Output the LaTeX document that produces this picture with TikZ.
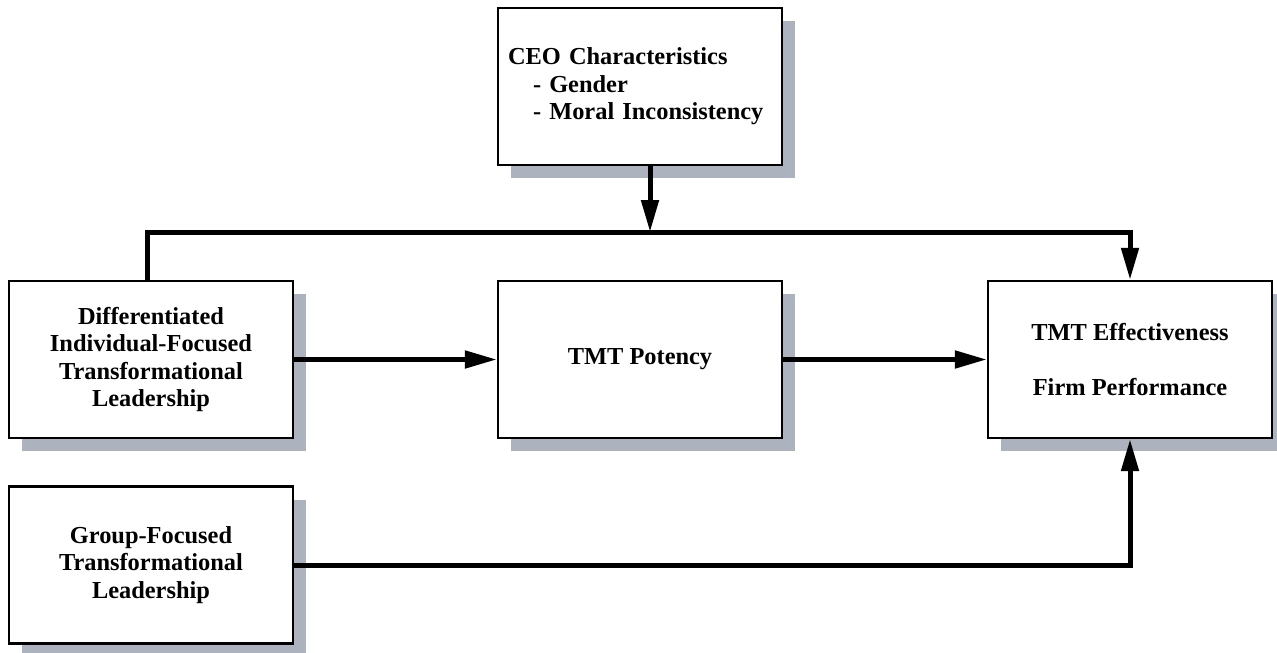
\documentclass[tikz,border=0pt]{standalone}
\usepackage{fontspec}
\setmainfont{Liberation Serif}
\usetikzlibrary{arrows.meta,shadows}
\definecolor{shadowgray}{RGB}{172,179,191}
\tikzset{
  box/.style={draw, line width=1.2pt, fill=white, minimum width=142pt, minimum height=78.5pt,
    align=center, font=\bfseries\fontsize{12.2}{13.8}\selectfont,
    drop shadow={shadow xshift=6.5pt, shadow yshift=-6.5pt, fill=shadowgray, opacity=1}},
  link/.style={line width=2.5pt, -{Triangle[length=16pt,width=8.5pt]}}
}
\begin{document}
\begin{tikzpicture}[x=0.5pt,y=-0.5pt]
\useasboundingbox (0,0) rectangle (1277,652);
% boxes
\node[box, align=left, text width=132pt, inner xsep=4pt] (ceo) at (640,86.5) {CEO Characteristics\\\hspace*{12.5pt}- Gender\\\hspace*{12.5pt}- Moral Inconsistency};
\node[box] (diff) at (151,359.5) {Differentiated\\Individual-Focused\\Transformational\\Leadership};
\node[box] (pot) at (640,359.5) {TMT Potency};
\node[box] (eff) at (1130,359.5) {TMT Effectiveness\\[13.8pt]Firm Performance};
\node[box] (grp) at (151,565) {Group-Focused\\Transformational\\Leadership};
\coordinate (bus) at (650,232);
% connectors
\draw[link] ([xshift=-2pt]diff.north) |- (bus) -| (eff.north);
\draw[link] (ceo.south -| bus) -- (bus);
\draw[link] (diff.east) -- (pot.west);
\draw[link] (pot.east) -- (eff.west);
\draw[link] (grp.east) -| (eff.south);
\end{tikzpicture}
\end{document}
